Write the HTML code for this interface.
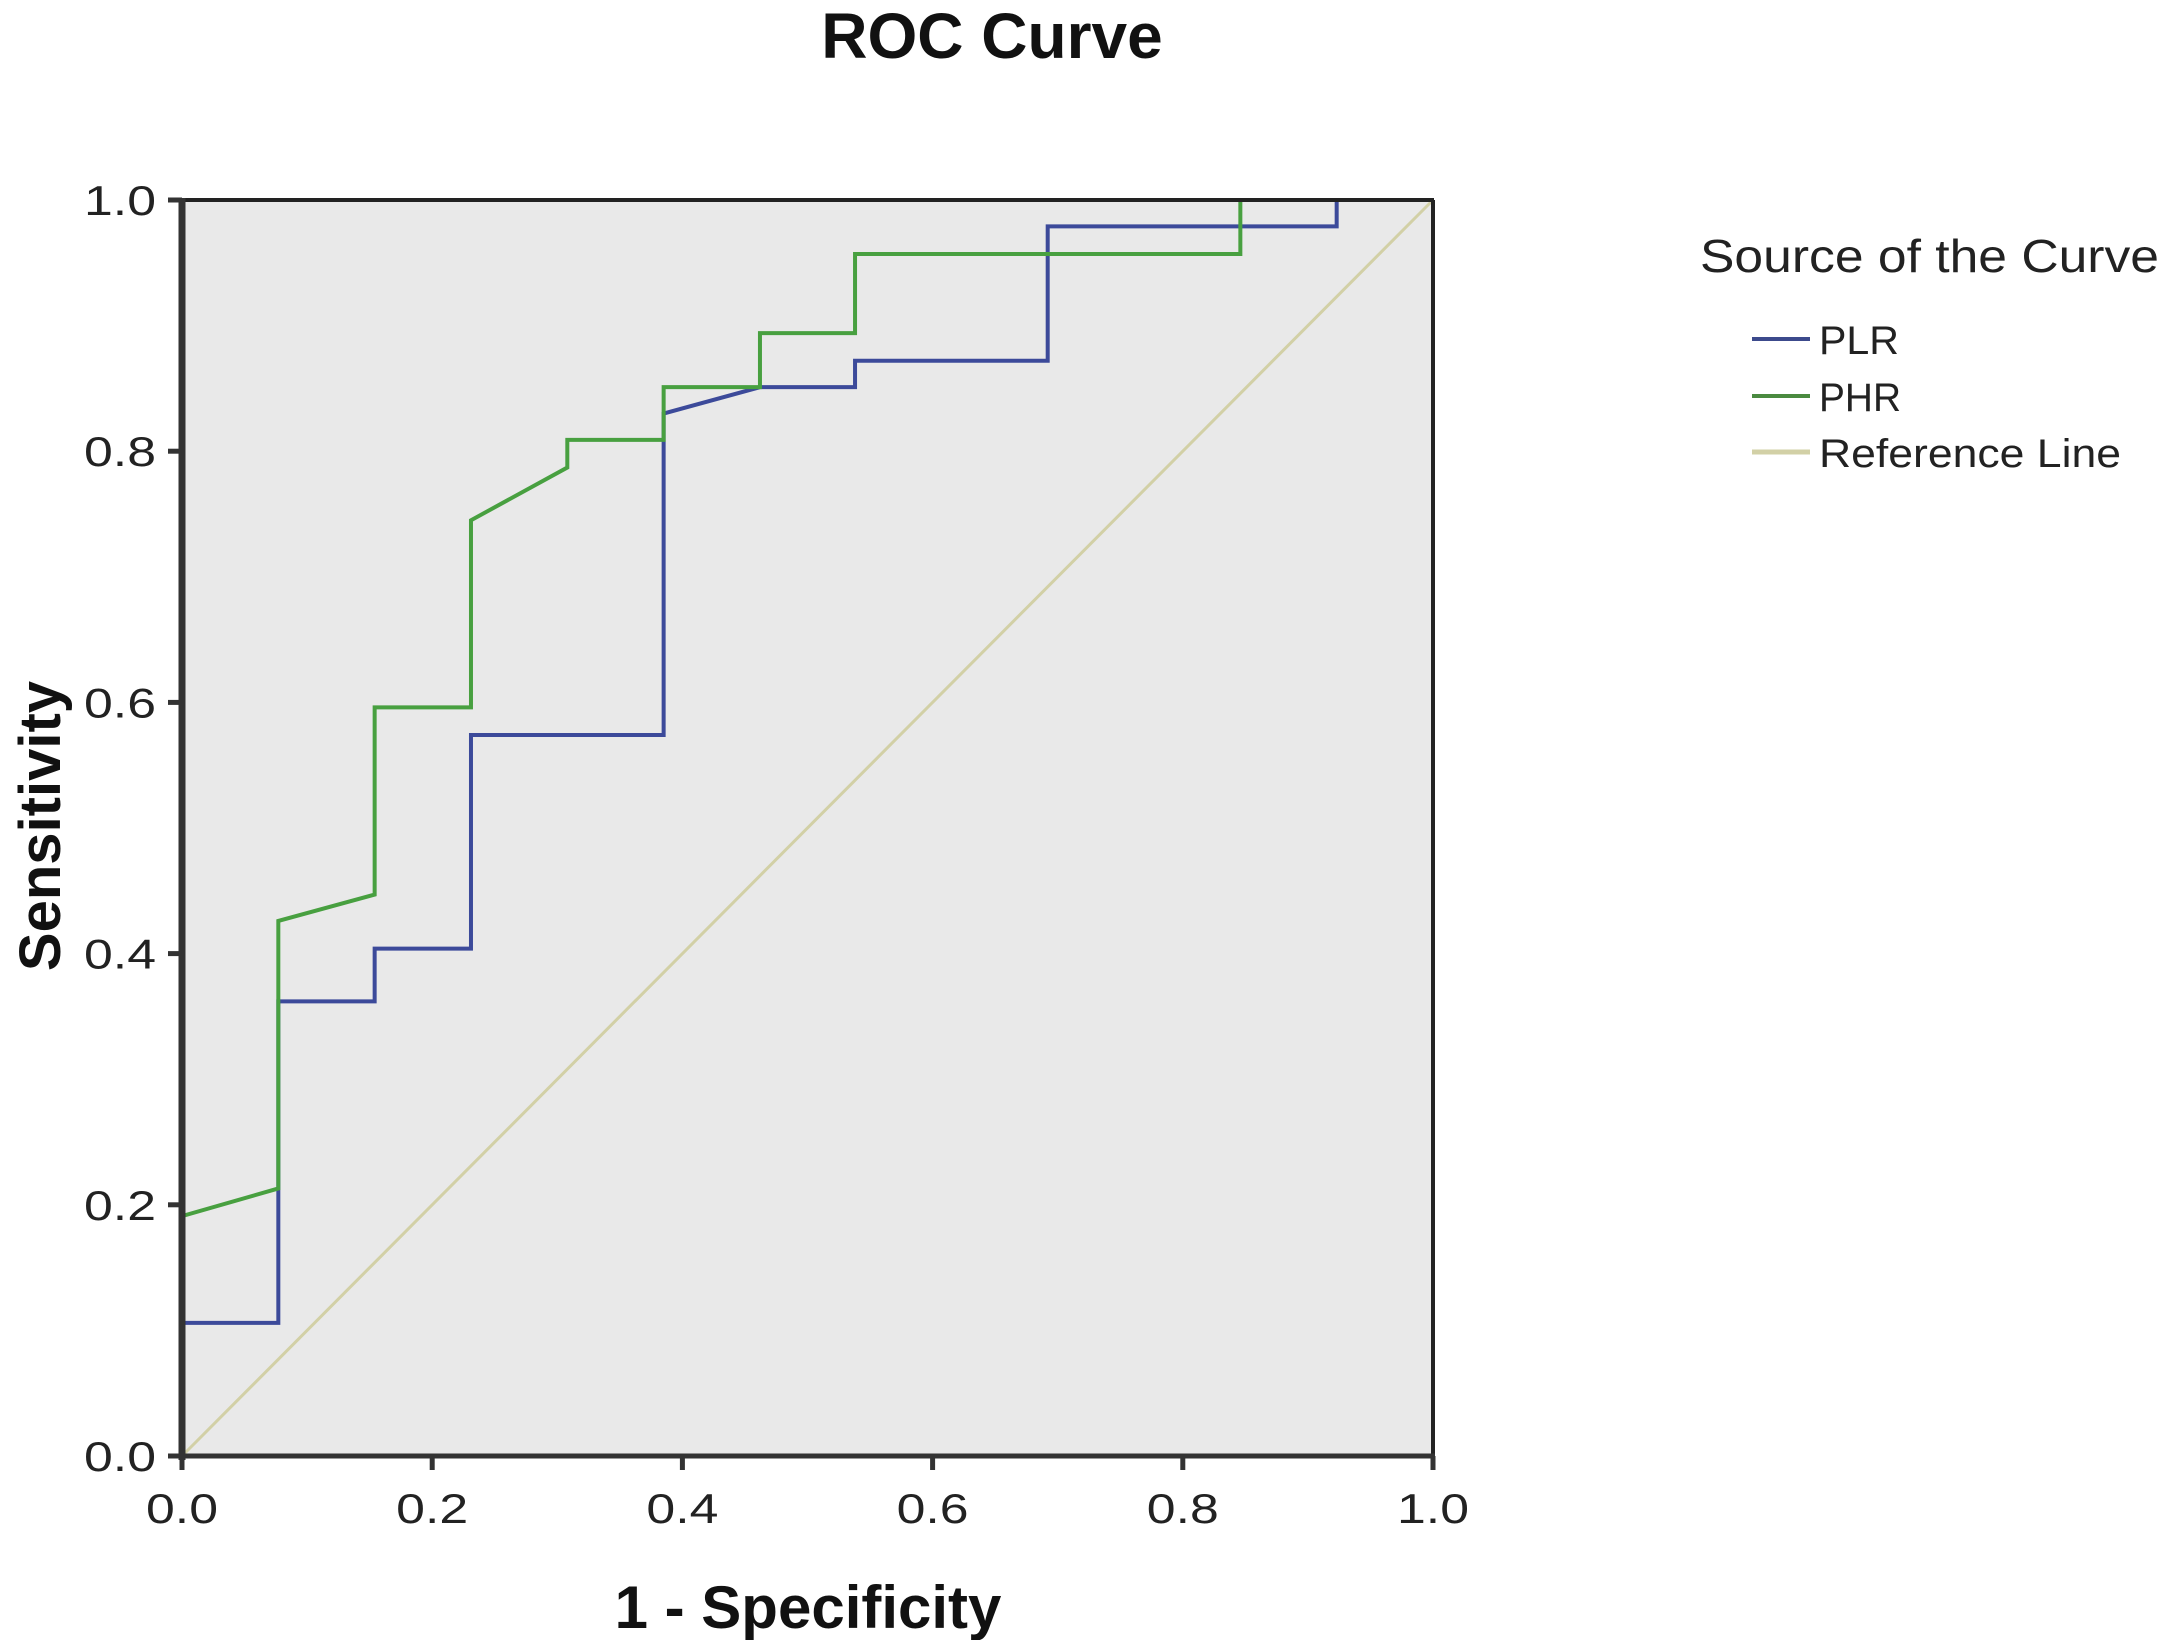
<!DOCTYPE html>
<html><head><meta charset="utf-8"><style>body{margin:0;background:#fff}svg{display:block}</style></head>
<body>
<svg id="chart" width="2167" height="1640" xmlns="http://www.w3.org/2000/svg" font-family="Liberation Sans, sans-serif">
<text x="992" y="58" font-size="64" font-weight="bold" text-anchor="middle" fill="#111">ROC Curve</text>
<rect x="182" y="200" width="1251" height="1256" fill="#e9e9e9"/>
<g id="ticks"></g>
<g id="series"></g>
<line x1="182" y1="200" x2="1434" y2="200" stroke="#222" stroke-width="4"/>
<line x1="1433" y1="200" x2="1433" y2="1456" stroke="#222" stroke-width="4"/>
<line x1="182" y1="198" x2="182" y2="1460" stroke="#333" stroke-width="7"/>
<line x1="180" y1="1456" x2="1435" y2="1456" stroke="#333" stroke-width="5"/>
<text x="808" y="1628" font-size="60" font-weight="bold" text-anchor="middle" fill="#111">1 - Specificity</text>
<text transform="translate(60,826) rotate(-90)" font-size="58" font-weight="bold" text-anchor="middle" fill="#111">Sensitivity</text>
<g>
<text x="1700" y="272" font-size="46" fill="#222" textLength="459" lengthAdjust="spacingAndGlyphs">Source of the Curve</text>
<line x1="1752" y1="339" x2="1810" y2="339" stroke="#3c4a8c" stroke-width="4"/>
<text x="1819" y="354" font-size="40" fill="#222" textLength="80" lengthAdjust="spacingAndGlyphs">PLR</text>
<line x1="1752" y1="396" x2="1810" y2="396" stroke="#4a8a40" stroke-width="4"/>
<text x="1819" y="411" font-size="40" fill="#222" textLength="82" lengthAdjust="spacingAndGlyphs">PHR</text>
<line x1="1752" y1="452" x2="1810" y2="452" stroke="#d2d0a6" stroke-width="5"/>
<text x="1819" y="467" font-size="40" fill="#222" textLength="302" lengthAdjust="spacingAndGlyphs">Reference Line</text>
</g>
</svg>
<script>
const tickValues = [0, 0.2, 0.4, 0.6, 0.8, 1.0];
const tickLabels = ["0.0", "0.2", "0.4", "0.6", "0.8", "1.0"];
const plrX = [0, 0, 0.077, 0.077, 0.154, 0.154, 0.231, 0.231, 0.385, 0.385, 0.462, 0.538, 0.538, 0.692, 0.692, 0.923, 0.923, 1];
const plrY = [0, 0.106, 0.106, 0.362, 0.362, 0.404, 0.404, 0.574, 0.574, 0.830, 0.851, 0.851, 0.872, 0.872, 0.979, 0.979, 1, 1];
const phrX = [0, 0, 0.077, 0.077, 0.154, 0.154, 0.231, 0.231, 0.308, 0.308, 0.385, 0.385, 0.462, 0.462, 0.538, 0.538, 0.846, 0.846, 1];
const phrY = [0, 0.191, 0.213, 0.426, 0.447, 0.596, 0.596, 0.745, 0.787, 0.809, 0.809, 0.851, 0.851, 0.894, 0.894, 0.957, 0.957, 1, 1];
const refX = [0, 1];
const refY = [0, 1];
const NS = "http://www.w3.org/2000/svg";
const X0 = 182, X1 = 1433, Y0 = 1456, Y1 = 200;
function sx(v){ return X0 + v * (X1 - X0); }
function sy(v){ return Y0 - v * (Y0 - Y1); }
const ticks = document.getElementById('ticks');
tickValues.forEach((v, i) => {
  const t = document.createElementNS(NS, 'line');
  t.setAttribute('x1', sx(v)); t.setAttribute('x2', sx(v));
  t.setAttribute('y1', Y0); t.setAttribute('y2', Y0 + 14);
  t.setAttribute('stroke', '#333'); t.setAttribute('stroke-width', '5');
  
  
  ticks.appendChild(t);
  const l = document.createElementNS(NS, 'text');
  l.setAttribute('x', sx(v)); l.setAttribute('y', 1523);
  l.setAttribute('font-size', '42'); l.setAttribute('text-anchor', 'middle'); l.setAttribute('fill', '#222');
  l.setAttribute('textLength', '72'); l.setAttribute('lengthAdjust', 'spacingAndGlyphs');
  l.textContent = tickLabels[i];
  
  
  ticks.appendChild(l);
  const t2 = document.createElementNS(NS, 'line');
  t2.setAttribute('x1', X0 - 14); t2.setAttribute('x2', X0);
  t2.setAttribute('y1', sy(v)); t2.setAttribute('y2', sy(v));
  t2.setAttribute('stroke', '#333'); t2.setAttribute('stroke-width', '5');
  
  
  ticks.appendChild(t2);
  const l2 = document.createElementNS(NS, 'text');
  l2.setAttribute('x', 156); l2.setAttribute('y', sy(v) + 15);
  l2.setAttribute('font-size', '42'); l2.setAttribute('text-anchor', 'end'); l2.setAttribute('fill', '#222');
  l2.setAttribute('textLength', '72'); l2.setAttribute('lengthAdjust', 'spacingAndGlyphs');
  l2.textContent = tickLabels[i];
  
  
  ticks.appendChild(l2);
});
const series = document.getElementById('series');
function drawLine(xs, ys, color, w, name){
  const p = document.createElementNS(NS, 'polyline');
  p.setAttribute('points', xs.map((x, i) => sx(x) + ',' + sy(ys[i])).join(' '));
  p.setAttribute('fill', 'none'); p.setAttribute('stroke', color); p.setAttribute('stroke-width', w);
  
  
  series.appendChild(p);
}
drawLine(refX, refY, '#d2d0a6', 3, 'reference-line');
drawLine(plrX, plrY, '#3c4a9a', 4, 'plr-curve');
drawLine(phrX, phrY, '#48a040', 4, 'phr-curve');
</script>
</body></html>
